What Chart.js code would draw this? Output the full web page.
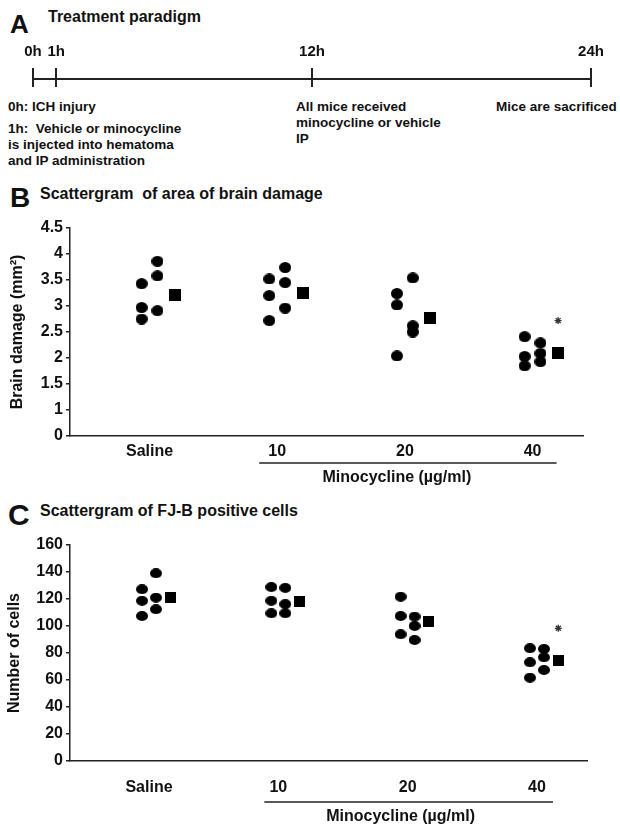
<!DOCTYPE html>
<html>
<head>
<meta charset="utf-8">
<script src="https://cdn.jsdelivr.net/npm/chart.js@4.4.1/dist/chart.umd.min.js"></script>
<style>
  body { margin: 0; background: #fff; }
  #page { position: relative; width: 620px; height: 826px; overflow: hidden;
          font-family: "Liberation Sans", Arial, sans-serif; font-weight: bold; color: #111; }
  .t { position: absolute; white-space: pre; }
  .title { font-size: 16px; line-height: 16px; }
  .note { font-size: 13.5px; line-height: 16px; }
  canvas { position: absolute; left: 0; }
</style>
</head>
<body>
<div id="page">
  <div class="t" style="left:10px;top:11px;font-size:26px;line-height:26px">A</div>
  <div class="t title" style="left:48px;top:9px">Treatment paradigm</div>
  <canvas id="timeline" width="620" height="60" style="top:30px"></canvas>
  <div class="t note" style="left:8px;top:99px">0h: ICH injury</div>
  <div class="t note" style="left:8px;top:121px">1h:  Vehicle or minocycline<br>is injected into hematoma<br>and IP administration</div>
  <div class="t note" style="left:296px;top:99px">All mice received<br>minocycline or vehicle<br>IP</div>
  <div class="t note" style="left:496px;top:99px">Mice are sacrificed</div>

  <div class="t" style="left:10px;top:184px;font-size:28px;line-height:28px">B</div>
  <div class="t title" style="left:40px;top:186px">Scattergram  of area of brain damage</div>
  <canvas id="damage" width="620" height="280" style="top:215px"></canvas>

  <div class="t" style="left:8px;top:500px;font-size:30px;line-height:30px">C</div>
  <div class="t title" style="left:40px;top:503px">Scattergram of FJ-B positive cells</div>
  <canvas id="cells" width="620" height="296" style="top:530px"></canvas>
</div>
<script>
// timeline
const hours = [0, 1, 12, 24];
const timepoints = ['0h', '1h', '12h', '24h'];

// groups on the x axis
const groups = ['Saline', '10', '20', '40'];
const doseLabel = 'Minocycline (\u00b5g/ml)';

// B: brain damage (mm2), individual mice in two columns per group
const damageLeft = [[3.43, 2.97, 2.75], [3.52, 3.20, 2.72], [3.24, 3.02, 2.04], [2.41, 2.03, 1.85]];
const damageRight = [[3.86, 3.58, 2.91], [3.74, 3.45, 2.96], [3.54, 2.62, 2.50], [2.29, 2.09, 1.93]];
const damageMean = [3.22, 3.25, 2.77, 2.09];
const damageStar = [null, null, null, 2.72];

// C: FJ-B positive cells
const cellsLeft = [[127.2, 118.7, 107.4], [128.8, 118.7, 109.4], [121.7, 107.4, 93.8], [83.5, 73.1, 61.7]];
const cellsRight = [[139.0, 121.0, 112.4], [128.2, 116.2, 109.4], [106.9, 100.0, 89.6], [83.0, 76.8, 67.4]];
const cellsMean = [121.2, 118.0, 103.5, 74.8];
const cellsStar = [null, null, null, 98.3];

const FONT = 'Liberation Sans';
const INK = '#111';
const LINE = '#222';
Chart.defaults.font.family = FONT;
Chart.defaults.color = INK;

function dotImg(w, h, square) {
  const c = document.createElement('canvas');
  c.width = w; c.height = h;
  const g = c.getContext('2d');
  g.fillStyle = '#000';
  if (square) {
    g.fillRect(0, 0, w, h);
  } else {
    g.beginPath();
    g.ellipse(w / 2, h / 2, w / 2, h / 2, 0, 0, 2 * Math.PI);
    g.fill();
  }
  return c;
}

function columnPoints(cols, off) {
  const pts = [];
  cols.forEach((vals, g) => vals.forEach(v => pts.push({x: g + 1 + off, y: v})));
  return pts;
}

function groupPoints(vals, off) {
  const pts = [];
  vals.forEach((v, g) => { if (v != null) pts.push({x: g + 1 + off, y: v}); });
  return pts;
}

// underline + "Minocycline" under the dose groups
const doseBracket = {
  id: 'doseBracket',
  afterDraw(chart, args, o) {
    const xs = chart.scales.x, ctx = chart.ctx, bottom = chart.chartArea.bottom;
    const x1 = xs.getPixelForValue(o.from) - o.padLeft;
    const x2 = xs.getPixelForValue(o.to) + o.padRight;
    ctx.save();
    ctx.strokeStyle = LINE;
    ctx.lineWidth = 1.5;
    ctx.beginPath();
    ctx.moveTo(x1, bottom + o.lineY);
    ctx.lineTo(x2, bottom + o.lineY);
    ctx.stroke();
    ctx.font = 'bold 16px "' + FONT + '"';
    ctx.fillStyle = INK;
    ctx.textAlign = 'center';
    ctx.textBaseline = 'middle';
    ctx.fillText(doseLabel, (x1 + x2) / 2 + o.shift, bottom + o.textY);
    ctx.restore();
  }
};

function scatterChart(id, s) {
  const circle = dotImg(s.dot[0], s.dot[1], false);
  const square = dotImg(s.sq, s.sq, true);
  const tickFont = {family: FONT, size: 16, weight: 'bold'};
  return new Chart(document.getElementById(id), {
    type: 'scatter',
    data: {
      datasets: [
        {data: columnPoints(s.left, -s.col), pointStyle: circle},
        {data: columnPoints(s.right, s.col), pointStyle: circle},
        {data: groupPoints(s.mean, s.meanOff), pointStyle: square},
        {data: groupPoints(s.star, s.meanOff), pointStyle: 'star', radius: 3.5,
         borderColor: '#333', borderWidth: 1.3}
      ]
    },
    options: {
      responsive: false,
      animation: false,
      layout: {autoPadding: false, padding: {top: s.padTop, right: s.padRight, bottom: 0, left: 0}},
      plugins: {legend: {display: false}, tooltip: {enabled: false}, doseBracket: s.bracket},
      elements: {point: {backgroundColor: '#000', borderColor: '#000', radius: 6}},
      scales: {
        x: {
          type: 'linear', min: s.xMin, max: s.xMax,
          afterBuildTicks: sc => { sc.ticks = groups.map((g, i) => ({value: i + 1})); },
          afterFit: sc => { sc.height = s.xHeight; },
          ticks: {callback: v => groups[v - 1], font: tickFont, color: INK,
                  padding: s.xPad, maxRotation: 0, autoSkip: false},
          grid: {drawOnChartArea: false, drawTicks: false},
          border: {color: LINE, width: 1.5}
        },
        y: {
          min: s.yMin, max: s.yMax,
          afterFit: sc => { sc.width = 70; },
          ticks: {stepSize: s.step, callback: s.yLabel, font: tickFont, color: INK, padding: 3},
          grid: {drawOnChartArea: false, drawTicks: true, tickLength: 4, color: LINE, lineWidth: 1.5},
          border: {color: LINE, width: 1.5},
          title: {display: true, text: s.yTitle, font: tickFont, color: INK,
                  padding: {top: s.titlePad, bottom: 0}}
        }
      }
    },
    plugins: [doseBracket]
  });
}

// A: treatment timeline
new Chart(document.getElementById('timeline'), {
  type: 'scatter',
  data: {datasets: []},
  options: {
    responsive: false,
    animation: false,
    layout: {autoPadding: false, padding: {top: 0, right: 29, bottom: 3, left: 33}},
    plugins: {legend: {display: false}, tooltip: {enabled: false}},
    scales: {
      x: {
        type: 'linear', position: 'top', min: 0, max: 24,
        afterBuildTicks: sc => { sc.ticks = hours.map(h => ({value: h})); },
        afterFit: sc => { sc.height = 49; },
        ticks: {callback: v => timepoints[hours.indexOf(v)], font: {family: FONT, size: 15, weight: 'bold'},
                color: INK, padding: 7, maxRotation: 0, autoSkip: false},
        grid: {drawOnChartArea: true, drawTicks: true, tickLength: 11, color: LINE, lineWidth: 2},
        border: {color: LINE, width: 2}
      },
      y: {display: false, min: 0, max: 1}
    }
  }
});

// B
scatterChart('damage', {
  left: damageLeft, right: damageRight, mean: damageMean, star: damageStar,
  dot: [12, 11], sq: 12, col: 0.062, meanOff: 0.2,
  xMin: 0.377, xMax: 4.395, xHeight: 59, xPad: 6,
  yMin: 0.5, yMax: 4.5, step: 0.5, yLabel: v => (v === 0.5 ? '0' : String(v)),
  yTitle: 'Brain damage (mm\u00b2)', titlePad: 8,
  padTop: 13, padRight: 37,
  bracket: {from: 2, to: 4, padLeft: 18, padRight: 24, lineY: 27, textY: 41.5, shift: -11}
});

// C
scatterChart('cells', {
  left: cellsLeft, right: cellsRight, mean: cellsMean, star: cellsStar,
  dot: [12, 10], sq: 11, col: 0.054, meanOff: 0.165,
  xMin: 0.389, xMax: 4.387, xHeight: 65, xPad: 17,
  yMin: 0, yMax: 160, step: 20, yLabel: v => String(v),
  yTitle: 'Number of cells', titlePad: 5,
  padTop: 15, padRight: 33,
  bracket: {from: 2, to: 4, padLeft: 14, padRight: 16, lineY: 41, textY: 56, shift: -8}
});
</script>
</body>
</html>
